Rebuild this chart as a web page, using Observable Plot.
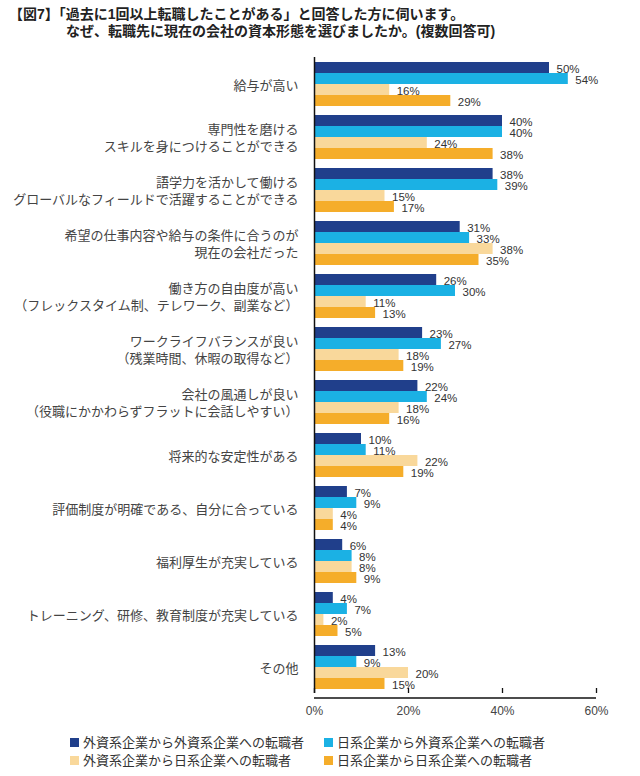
<!DOCTYPE html>
<html><head><meta charset="utf-8">
<script src="https://cdn.jsdelivr.net/npm/d3@7"></script>
<script src="https://cdn.jsdelivr.net/npm/@observablehq/plot@0.6"></script>
<style>
body{margin:0;background:#fff;font-family:"Noto Sans CJK JP",sans-serif;}
#wrap{position:relative;width:640px;}
#title{position:relative;height:46px;font-weight:bold;font-size:14px;line-height:16.5px;color:#222;font-family:"Liberation Sans","Noto Sans CJK JP",sans-serif;}
#title div{position:absolute;left:9px;top:6px;padding-left:57px;text-indent:-57px;white-space:nowrap;}
#legend{position:relative;height:48px;font-size:13px;line-height:16px;color:#333;}
.li{position:absolute;display:flex;align-items:center;white-space:nowrap;}
.sw{width:9px;height:9px;margin-right:4px;}
</style></head><body>
<div id="wrap">
<div id="title"><div>【図7】「過去に1回以上転職したことがある」と回答した方に伺います。<br>なぜ、転職先に現在の会社の資本形態を選びましたか。(複数回答可)</div></div>
<div id="chart"></div>
<div id="legend"></div>
</div>
<script>
const categories = [
  "給与が高い",
  "専門性を磨ける\nスキルを身につけることができる",
  "語学力を活かして働ける\nグローバルなフィールドで活躍することができる",
  "希望の仕事内容や給与の条件に合うのが\n現在の会社だった",
  "働き方の自由度が高い\n（フレックスタイム制、テレワーク、副業など）",
  "ワークライフバランスが良い\n（残業時間、休暇の取得など）",
  "会社の風通しが良い\n（役職にかかわらずフラットに会話しやすい）",
  "将来的な安定性がある",
  "評価制度が明確である、自分に合っている",
  "福利厚生が充実している",
  "トレーニング、研修、教育制度が充実している",
  "その他"
];
const seriesNames = [
  "外資系企業から外資系企業への転職者",
  "日系企業から外資系企業への転職者",
  "外資系企業から日系企業への転職者",
  "日系企業から日系企業への転職者"
];
const s1 = [50, 40, 38, 31, 26, 23, 22, 10, 7, 6, 4, 13];
const s2 = [54, 40, 39, 33, 30, 27, 24, 11, 9, 8, 7, 9];
const s3 = [16, 24, 15, 38, 11, 18, 18, 22, 4, 8, 2, 20];
const s4 = [29, 38, 17, 35, 13, 19, 16, 19, 4, 9, 5, 15];
const xTicks = [0, 20, 40, 60];
const colors = ["#203f8b", "#1bb1e4", "#f9d89b", "#f5ad2a"];

const seriesValues = [s1, s2, s3, s4];
const rows = categories.flatMap((c, i) => seriesNames.map((s, j) => ({category: c, series: s, value: seriesValues[j][i]})));

const chart = Plot.plot({
  width: 640, height: 682,
  marginLeft: 314, marginRight: 44, marginTop: 6, marginBottom: 30,
  style: {fontFamily: '"Liberation Sans", "Noto Sans CJK JP", sans-serif', fontSize: "11px", color: "#333", background: "#fff"},
  x: {domain: [0, 60]},
  fy: {domain: categories, padding: 0},
  y: {domain: seriesNames, paddingInner: 0, paddingOuter: 0.4, axis: null},
  color: {domain: seriesNames, range: colors},
  marks: [
    Plot.barX(rows, {fy: "category", y: "series", x: "value", fill: "series"}),
    Plot.text(rows, {fy: "category", y: "series", x: "value", text: d => d.value + "%", textAnchor: "start", dx: 7, dy: 1, fill: "#333", fontSize: 11.5}),
    Plot.ruleX([0], {stroke: "#111", strokeWidth: 1.5}),
    Plot.axisFy({anchor: "left", tickSize: 0, tickPadding: 16, label: null, fontSize: 13, lineHeight: 1.35, fill: "#444", fontFamily: '"Noto Sans CJK JP", sans-serif'}),
    Plot.axisX({ticks: xTicks, tickSize: -5, tickFormat: () => "", label: null, stroke: "#111", strokeWidth: 1.3}),
    Plot.axisX({ticks: xTicks, tickSize: 0, tickPadding: 13, tickFormat: d => d + "%", label: null, fill: "#444", fontSize: 12})
  ]
});
// bottom axis line, positioned from the chart's own scales
const xs = chart.scale("x"), fys = chart.scale("fy");
const yBottom = fys.range[1];
d3.select(chart).append("line")
  .attr("x1", xs.apply(xTicks[0])).attr("x2", xs.apply(xTicks[xTicks.length - 1]))
  .attr("y1", yBottom).attr("y2", yBottom)
  .attr("stroke", "#111").attr("stroke-width", 1.5);
document.getElementById("chart").appendChild(chart);

const legend = document.getElementById("legend");
const pos = [[70, 6], [324, 6], [70, 24], [324, 24]];
seriesNames.forEach((s, i) => {
  const el = document.createElement("div");
  el.className = "li";
  el.style.left = pos[i][0] + "px";
  el.style.top = pos[i][1] + "px";
  el.innerHTML = `<span class="sw" style="background:${colors[i]}"></span><span>${s}</span>`;
  legend.appendChild(el);
});
</script>
</body></html>
